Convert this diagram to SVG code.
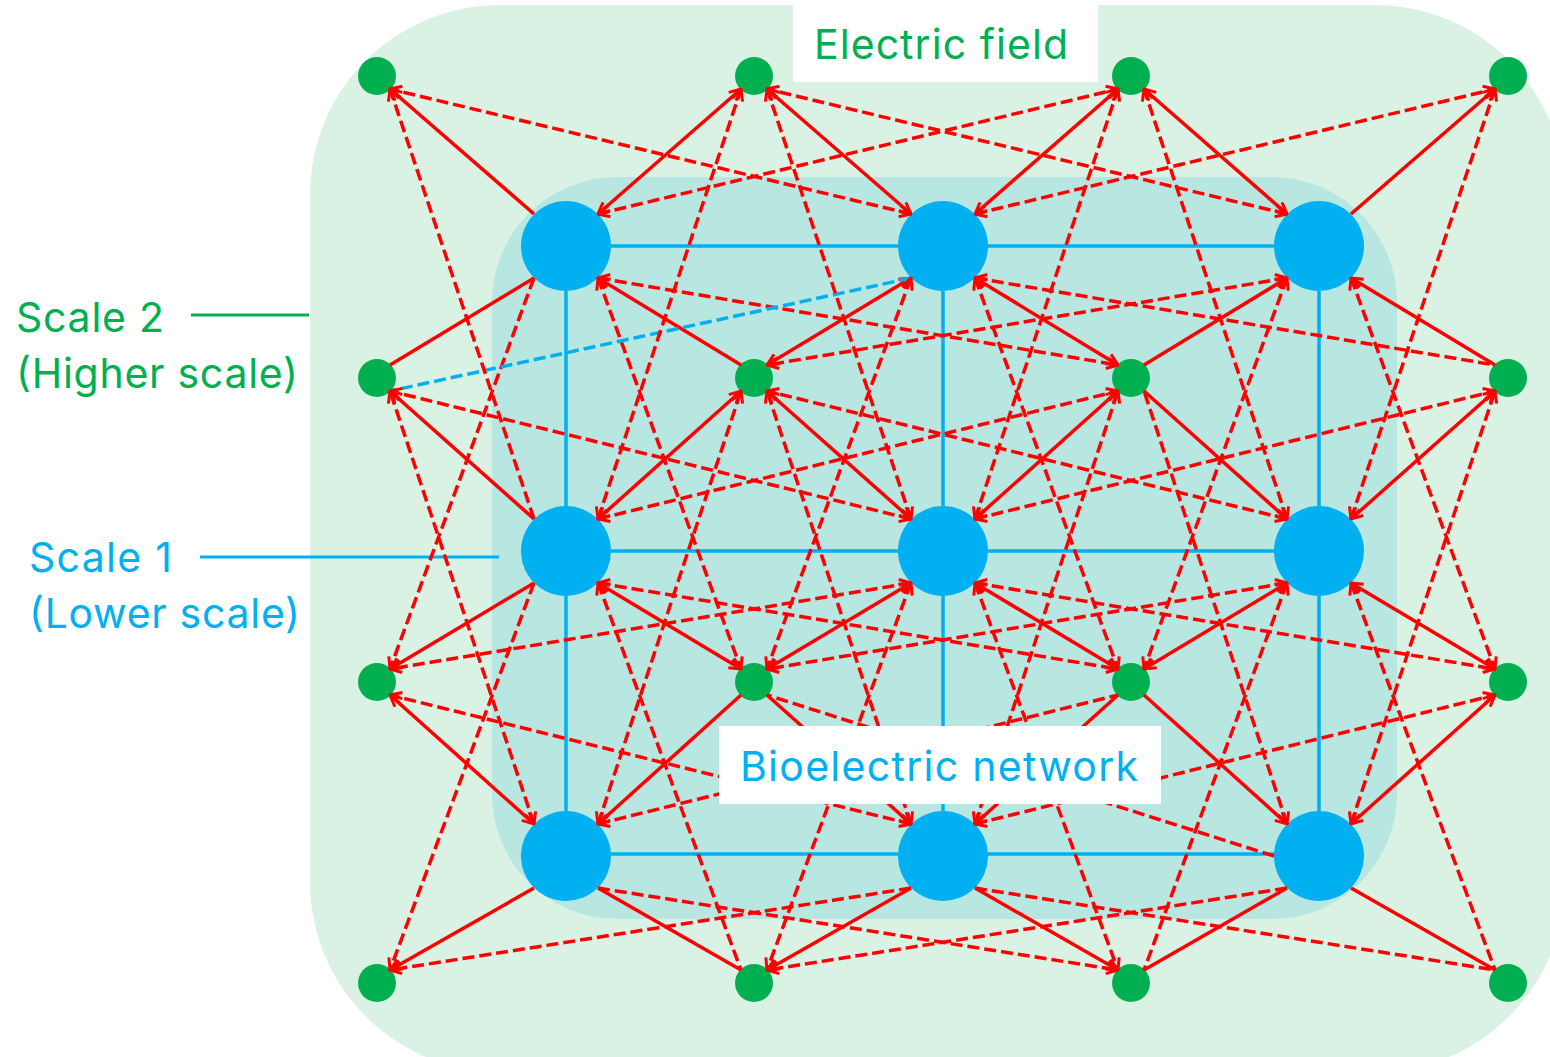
<svg xmlns="http://www.w3.org/2000/svg" width="1550" height="1057" viewBox="0 0 1550 1057">
<style>
.s{stroke:#FF0000;stroke-width:3.5;fill:none}
.d{stroke:#FF0000;stroke-width:3.5;stroke-dasharray:12 5;fill:none}
.bd{stroke:#00B0F0;stroke-width:3.5;stroke-dasharray:12 5;fill:none}
.bl{stroke:#00B0F0;stroke-width:3.5;fill:none}
.he{marker-end:url(#ah)}
.hs{marker-start:url(#ah)}
.gn{fill:#00B050}
.bn{fill:#00B0F0}
.t{font-family:Inter,"Open Sans","Liberation Sans",sans-serif;font-size:41px}
.tg{fill:#00B050}
.tb{fill:#00B0F0}
</style>
<defs>
<marker id="ah" viewBox="0 0 14 14" refX="13" refY="7" markerWidth="14" markerHeight="14" markerUnits="userSpaceOnUse" orient="auto-start-reverse">
<path d="M1.5,1.5 L13,7 L1.5,12.5" fill="none" stroke="#FF0000" stroke-width="3"/>
</marker>
</defs>
<rect width="1550" height="1057" fill="#FFFFFF"/>
<g id="electric-field-area"><rect x="310" y="5" width="1255" height="1067" rx="190" fill="#DAF2E4"/></g>
<g id="bioelectric-area"><rect x="492" y="177" width="905" height="742" rx="125" fill="#B8E7E1"/></g>
<g id="scale-labels">
<text class="t tg" x="16" y="332" textLength="148">Scale 2</text>
<text class="t tg" x="16" y="388" textLength="282">(Higher scale)</text>
<line x1="191" y1="315" x2="309" y2="315" stroke="#00B050" stroke-width="3"/>
<text class="t tb" x="29" y="572" textLength="143">Scale 1</text>
<text class="t tb" x="29" y="628" textLength="271">(Lower scale)</text>
<line x1="200" y1="557" x2="499" y2="557" stroke="#00B0F0" stroke-width="3"/>
</g>
<g id="bio-links">
<line class="bl" x1="611" y1="246" x2="898" y2="246"/>
<line class="bl" x1="988" y1="246" x2="1274" y2="246"/>
<line class="bl" x1="611" y1="551" x2="898" y2="551"/>
<line class="bl" x1="988" y1="551" x2="1274" y2="551"/>
<line class="bl" x1="611" y1="854" x2="898" y2="854"/>
<line class="bl" x1="988" y1="854" x2="1274" y2="854"/>
<line class="bl" x1="566" y1="291" x2="566" y2="506"/>
<line class="bl" x1="566" y1="596" x2="566" y2="811"/>
<line class="bl" x1="943" y1="291" x2="943" y2="506"/>
<line class="bl" x1="943" y1="596" x2="943" y2="811"/>
<line class="bl" x1="1319" y1="291" x2="1319" y2="506"/>
<line class="bl" x1="1319" y1="596" x2="1319" y2="811"/>
</g>
<g id="B00"><circle class="bn" cx="566" cy="246" r="45"/></g>
<g id="B10"><circle class="bn" cx="943" cy="246" r="45"/></g>
<g id="B20"><circle class="bn" cx="1319" cy="246" r="45"/></g>
<g id="B01"><circle class="bn" cx="566" cy="551" r="45"/></g>
<g id="B11"><circle class="bn" cx="943" cy="551" r="45"/></g>
<g id="B21"><circle class="bn" cx="1319" cy="551" r="45"/></g>
<g id="B02"><circle class="bn" cx="566" cy="856" r="45"/></g>
<g id="B12"><circle class="bn" cx="943" cy="856" r="45"/></g>
<g id="B22"><circle class="bn" cx="1319" cy="856" r="45"/></g>
<g id="G00"><circle class="gn" cx="377" cy="76" r="19"/></g>
<g id="G10"><circle class="gn" cx="754" cy="76" r="19"/></g>
<g id="G20"><circle class="gn" cx="1131" cy="76" r="19"/></g>
<g id="G30"><circle class="gn" cx="1508" cy="76" r="19"/></g>
<g id="G01"><circle class="gn" cx="377" cy="378" r="19"/></g>
<g id="G11"><circle class="gn" cx="754" cy="378" r="19"/></g>
<g id="G21"><circle class="gn" cx="1131" cy="378" r="19"/></g>
<g id="G31"><circle class="gn" cx="1508" cy="378" r="19"/></g>
<g id="G02"><circle class="gn" cx="377" cy="682" r="19"/></g>
<g id="G12"><circle class="gn" cx="754" cy="682" r="19"/></g>
<g id="G22"><circle class="gn" cx="1131" cy="682" r="19"/></g>
<g id="G32"><circle class="gn" cx="1508" cy="682" r="19"/></g>
<g id="G03"><circle class="gn" cx="377" cy="983" r="19"/></g>
<g id="G13"><circle class="gn" cx="754" cy="983" r="19"/></g>
<g id="G23"><circle class="gn" cx="1131" cy="983" r="19"/></g>
<g id="G33"><circle class="gn" cx="1508" cy="983" r="19"/></g>
<g id="connectors">
<line class="s he" x1="534" y1="214" x2="390" y2="89"/>
<line class="s hs he" x1="598" y1="214" x2="741" y2="89"/>
<line class="s" x1="534" y1="278" x2="390" y2="365"/>
<line class="s hs" x1="598" y1="278" x2="741" y2="365"/>
<line class="d hs he" x1="598" y1="214" x2="1118" y2="89"/>
<line class="d hs he" x1="598" y1="278" x2="1118" y2="365"/>
<line class="d he" x1="534" y1="278" x2="390" y2="669"/>
<line class="d hs he" x1="598" y1="278" x2="741" y2="669"/>
<line class="s hs he" x1="911" y1="214" x2="767" y2="89"/>
<line class="s hs he" x1="975" y1="214" x2="1118" y2="89"/>
<line class="s hs he" x1="911" y1="278" x2="767" y2="365"/>
<line class="s hs he" x1="975" y1="278" x2="1118" y2="365"/>
<line class="d hs he" x1="975" y1="214" x2="1495" y2="89"/>
<line class="d hs" x1="975" y1="278" x2="1495" y2="365"/>
<line class="d hs he" x1="911" y1="214" x2="390" y2="89"/>
<line class="bd" x1="911" y1="278" x2="390" y2="391"/>
<line class="d hs he" x1="911" y1="278" x2="767" y2="669"/>
<line class="d hs he" x1="975" y1="278" x2="1118" y2="669"/>
<line class="s hs he" x1="1287" y1="214" x2="1144" y2="89"/>
<line class="s he" x1="1351" y1="214" x2="1495" y2="89"/>
<line class="s hs" x1="1287" y1="278" x2="1144" y2="365"/>
<line class="s hs" x1="1351" y1="278" x2="1495" y2="365"/>
<line class="d hs he" x1="1287" y1="214" x2="767" y2="89"/>
<line class="d hs he" x1="1287" y1="278" x2="767" y2="365"/>
<line class="d hs he" x1="1287" y1="278" x2="1144" y2="669"/>
<line class="d hs he" x1="1351" y1="278" x2="1495" y2="669"/>
<line class="s he" x1="534" y1="519" x2="390" y2="391"/>
<line class="s hs he" x1="598" y1="519" x2="741" y2="391"/>
<line class="s he" x1="534" y1="583" x2="390" y2="669"/>
<line class="s hs he" x1="598" y1="583" x2="741" y2="669"/>
<line class="d hs he" x1="598" y1="519" x2="1118" y2="391"/>
<line class="d hs he" x1="598" y1="583" x2="1118" y2="669"/>
<line class="d he" x1="534" y1="583" x2="390" y2="970"/>
<line class="d hs" x1="598" y1="583" x2="741" y2="970"/>
<line class="d he" x1="534" y1="519" x2="390" y2="89"/>
<line class="d hs he" x1="598" y1="519" x2="741" y2="89"/>
<line class="s hs he" x1="911" y1="519" x2="767" y2="391"/>
<line class="s hs he" x1="975" y1="519" x2="1118" y2="391"/>
<line class="s hs he" x1="911" y1="583" x2="767" y2="669"/>
<line class="s hs he" x1="975" y1="583" x2="1118" y2="669"/>
<line class="d hs he" x1="975" y1="519" x2="1495" y2="391"/>
<line class="d hs he" x1="975" y1="583" x2="1495" y2="669"/>
<line class="d hs he" x1="911" y1="519" x2="390" y2="391"/>
<line class="d hs he" x1="911" y1="583" x2="390" y2="669"/>
<line class="d hs he" x1="911" y1="583" x2="767" y2="970"/>
<line class="d hs he" x1="975" y1="583" x2="1118" y2="970"/>
<line class="d hs he" x1="911" y1="519" x2="767" y2="89"/>
<line class="d hs he" x1="975" y1="519" x2="1118" y2="89"/>
<line class="s hs" x1="1287" y1="519" x2="1144" y2="391"/>
<line class="s hs he" x1="1351" y1="519" x2="1495" y2="391"/>
<line class="s hs he" x1="1287" y1="583" x2="1144" y2="669"/>
<line class="s hs he" x1="1351" y1="583" x2="1495" y2="669"/>
<line class="d hs he" x1="1287" y1="519" x2="767" y2="391"/>
<line class="d hs he" x1="1287" y1="583" x2="767" y2="669"/>
<line class="d hs" x1="1287" y1="583" x2="1144" y2="970"/>
<line class="d hs" x1="1351" y1="583" x2="1495" y2="970"/>
<line class="d hs he" x1="1287" y1="519" x2="1144" y2="89"/>
<line class="d hs he" x1="1351" y1="519" x2="1495" y2="89"/>
<line class="s hs he" x1="534" y1="824" x2="390" y2="695"/>
<line class="s hs" x1="598" y1="824" x2="741" y2="695"/>
<line class="s he" x1="534" y1="888" x2="390" y2="970"/>
<line class="s" x1="598" y1="888" x2="741" y2="970"/>
<line class="d hs" x1="598" y1="824" x2="1118" y2="695"/>
<line class="d he" x1="598" y1="888" x2="1118" y2="970"/>
<line class="d hs he" x1="534" y1="824" x2="390" y2="391"/>
<line class="d hs he" x1="598" y1="824" x2="741" y2="391"/>
<line class="s hs" x1="911" y1="824" x2="767" y2="695"/>
<line class="s hs" x1="975" y1="824" x2="1118" y2="695"/>
<line class="s he" x1="911" y1="888" x2="767" y2="970"/>
<line class="s he" x1="975" y1="888" x2="1118" y2="970"/>
<line class="d hs he" x1="975" y1="824" x2="1495" y2="695"/>
<line class="d" x1="975" y1="888" x2="1495" y2="970"/>
<line class="d hs he" x1="911" y1="824" x2="390" y2="695"/>
<line class="d he" x1="911" y1="888" x2="390" y2="970"/>
<line class="d hs he" x1="911" y1="824" x2="767" y2="391"/>
<line class="d hs he" x1="975" y1="824" x2="1118" y2="391"/>
<line class="s hs" x1="1287" y1="824" x2="1144" y2="695"/>
<line class="s hs he" x1="1351" y1="824" x2="1495" y2="695"/>
<line class="s" x1="1287" y1="888" x2="1144" y2="970"/>
<line class="s" x1="1351" y1="888" x2="1495" y2="970"/>
<line class="d" x1="1274" y1="856" x2="767" y2="695"/>
<line class="d he" x1="1287" y1="888" x2="767" y2="970"/>
<line class="d hs" x1="1287" y1="824" x2="1144" y2="391"/>
<line class="d hs he" x1="1351" y1="824" x2="1495" y2="391"/>
</g>
<g id="label-electric-field">
<rect x="793" y="0" width="305" height="82" fill="#FFFFFF"/>
<text class="t tg" x="814" y="59" textLength="254">Electric field</text>
</g>
<g id="label-bioelectric-network">
<rect x="719" y="726" width="442" height="78" fill="#FFFFFF"/>
<text class="t tb" x="740" y="781" textLength="398">Bioelectric network</text>
</g>
</svg>
